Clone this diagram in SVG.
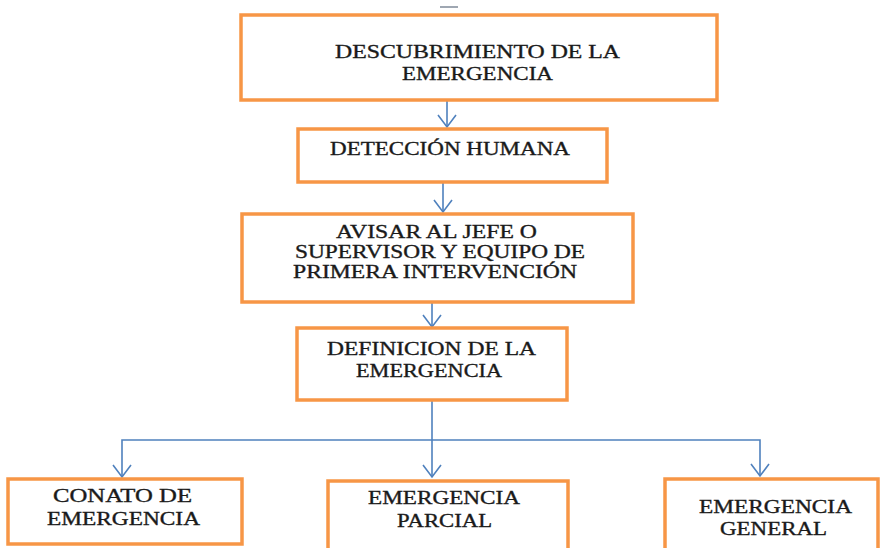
<svg xmlns="http://www.w3.org/2000/svg" width="880" height="548" viewBox="0 0 880 548">
<style>
.box{fill:#fff;stroke:#F79646;stroke-width:3.5}
.t{font-family:"Liberation Serif","Times New Roman",serif;font-size:19px;fill:#1a1a1a;stroke:#1a1a1a;stroke-width:0.35}
.c{fill:none;stroke:#4F81BD;stroke-width:1.6}
</style>
<defs>
<marker id="ah" markerUnits="userSpaceOnUse" markerWidth="24" markerHeight="24" viewBox="-16 -12 20 24" refX="0" refY="0" orient="auto-start-reverse">
<path d="M-12,-9 L0,0 L-12,9" fill="none" stroke="#4F81BD" stroke-width="1.6"/>
</marker>
</defs>
<rect width="880" height="548" fill="#fff"/>
<line x1="440" y1="7" x2="458" y2="7" stroke="#7f8a99" stroke-width="1.5"/>
<g id="connectors">
<line class="c" x1="447" y1="100" x2="447" y2="127" marker-end="url(#ah)"/>
<line class="c" x1="443" y1="182" x2="443" y2="212" marker-end="url(#ah)"/>
<line class="c" x1="432" y1="302" x2="432" y2="327" marker-end="url(#ah)"/>
<line class="c" x1="432" y1="400" x2="432" y2="477" marker-end="url(#ah)"/>
<polyline class="c" points="122,477 122,440 760,440 760,476" marker-start="url(#ah)" marker-end="url(#ah)"/>
</g>
<g id="n1">
<rect class="box" x="241" y="15" width="476" height="85"/>
<text class="t" x="335" y="58" textLength="285" lengthAdjust="spacingAndGlyphs">DESCUBRIMIENTO  DE LA</text>
<text class="t" x="402" y="80" textLength="151" lengthAdjust="spacingAndGlyphs">EMERGENCIA</text>
</g>
<g id="n2">
<rect class="box" x="298" y="129" width="309" height="53"/>
<text class="t" x="330" y="155" textLength="240" lengthAdjust="spacingAndGlyphs">DETECCIÓN HUMANA</text>
</g>
<g id="n3">
<rect class="box" x="242" y="214" width="391" height="88"/>
<text class="t" x="336" y="238" textLength="201" lengthAdjust="spacingAndGlyphs">AVISAR AL JEFE O</text>
<text class="t" x="295" y="258" textLength="290" lengthAdjust="spacingAndGlyphs">SUPERVISOR Y EQUIPO DE</text>
<text class="t" x="293" y="278" textLength="284" lengthAdjust="spacingAndGlyphs">PRIMERA INTERVENCIÓN</text>
</g>
<g id="n4">
<rect class="box" x="297" y="328" width="270" height="72"/>
<text class="t" x="327" y="355" textLength="209" lengthAdjust="spacingAndGlyphs">DEFINICION DE LA</text>
<text class="t" x="356" y="377" textLength="146" lengthAdjust="spacingAndGlyphs">EMERGENCIA</text>
</g>
<g id="n5">
<rect class="box" x="8" y="479" width="234" height="65"/>
<text class="t" x="53" y="502" textLength="139" lengthAdjust="spacingAndGlyphs">CONATO DE</text>
<text class="t" x="47" y="525" textLength="153" lengthAdjust="spacingAndGlyphs">EMERGENCIA</text>
</g>
<g id="n6">
<rect class="box" x="328" y="481" width="240" height="72"/>
<text class="t" x="368" y="504" textLength="152" lengthAdjust="spacingAndGlyphs">EMERGENCIA</text>
<text class="t" x="397" y="527" textLength="95" lengthAdjust="spacingAndGlyphs">PARCIAL</text>
</g>
<g id="n7">
<rect class="box" x="665" y="479" width="213" height="74"/>
<text class="t" x="699" y="513" textLength="153" lengthAdjust="spacingAndGlyphs">EMERGENCIA</text>
<text class="t" x="720" y="535" textLength="107" lengthAdjust="spacingAndGlyphs">GENERAL</text>
</g>
</svg>
